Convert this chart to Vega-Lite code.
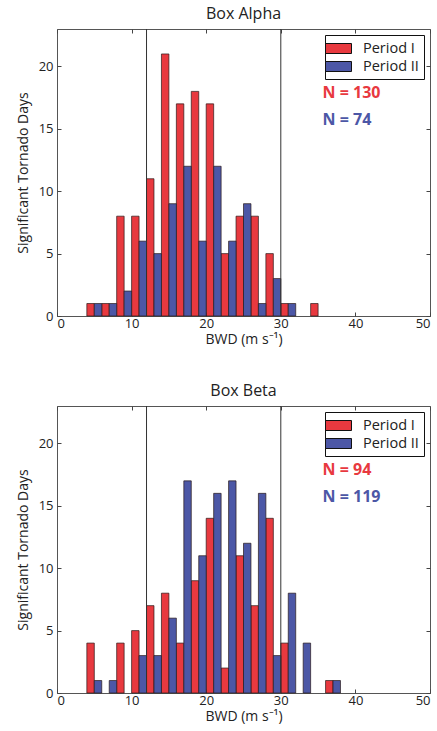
{
  "$schema": "https://vega.github.io/schema/vega-lite/v6.json",
  "padding": {"left": 15, "top": 5, "right": 4, "bottom": 2},
  "background": "white",
  "config": {
    "font": "Open Sans",
    "view": {"stroke": "#555555", "strokeWidth": 1},
    "axis": {
      "domain": false, "grid": false, "offset": -4, "tickSize": 4, "tickColor": "#444444", "tickWidth": 1, "zindex": 1,
      "labelFontSize": 13, "labelColor": "#222222", "labelPadding": 4,
      "titleFontSize": 14, "titleFontWeight": "normal", "titleColor": "#222222"
    },
    "axisX": {"labelPadding": 1, "titlePadding": 2},
    "axisY": {"titlePadding": 8},
    "title": {"fontSize": 16, "fontWeight": "normal", "color": "#222222", "offset": 7},
    "legend": {
      "orient": "top-right", "offset": 6, "title": null,
      "strokeColor": "#111111", "fillColor": "white", "padding": 5,
      "labelFontSize": 14.5, "labelColor": "#222222", "labelOffset": 16,
      "symbolType": "M-1.625,-0.625H1.625V0.625H-1.625Z", "symbolSize": 256,
      "symbolStrokeColor": "#111111", "symbolStrokeWidth": 1, "rowPadding": 2
    }
  },
  "datasets": {
    "bars": [
      {"box": "Box Alpha", "period": "Period I", "bwd_start": 4, "bwd_end": 5, "days": 1},
      {"box": "Box Alpha", "period": "Period I", "bwd_start": 6, "bwd_end": 7, "days": 1},
      {"box": "Box Alpha", "period": "Period I", "bwd_start": 8, "bwd_end": 9, "days": 8},
      {"box": "Box Alpha", "period": "Period I", "bwd_start": 10, "bwd_end": 11, "days": 8},
      {"box": "Box Alpha", "period": "Period I", "bwd_start": 12, "bwd_end": 13, "days": 11},
      {"box": "Box Alpha", "period": "Period I", "bwd_start": 14, "bwd_end": 15, "days": 21},
      {"box": "Box Alpha", "period": "Period I", "bwd_start": 16, "bwd_end": 17, "days": 17},
      {"box": "Box Alpha", "period": "Period I", "bwd_start": 18, "bwd_end": 19, "days": 18},
      {"box": "Box Alpha", "period": "Period I", "bwd_start": 20, "bwd_end": 21, "days": 17},
      {"box": "Box Alpha", "period": "Period I", "bwd_start": 22, "bwd_end": 23, "days": 5},
      {"box": "Box Alpha", "period": "Period I", "bwd_start": 24, "bwd_end": 25, "days": 8},
      {"box": "Box Alpha", "period": "Period I", "bwd_start": 26, "bwd_end": 27, "days": 8},
      {"box": "Box Alpha", "period": "Period I", "bwd_start": 28, "bwd_end": 29, "days": 5},
      {"box": "Box Alpha", "period": "Period I", "bwd_start": 30, "bwd_end": 31, "days": 1},
      {"box": "Box Alpha", "period": "Period I", "bwd_start": 34, "bwd_end": 35, "days": 1},
      {"box": "Box Alpha", "period": "Period II", "bwd_start": 5, "bwd_end": 6, "days": 1},
      {"box": "Box Alpha", "period": "Period II", "bwd_start": 7, "bwd_end": 8, "days": 1},
      {"box": "Box Alpha", "period": "Period II", "bwd_start": 9, "bwd_end": 10, "days": 2},
      {"box": "Box Alpha", "period": "Period II", "bwd_start": 11, "bwd_end": 12, "days": 6},
      {"box": "Box Alpha", "period": "Period II", "bwd_start": 13, "bwd_end": 14, "days": 5},
      {"box": "Box Alpha", "period": "Period II", "bwd_start": 15, "bwd_end": 16, "days": 9},
      {"box": "Box Alpha", "period": "Period II", "bwd_start": 17, "bwd_end": 18, "days": 12},
      {"box": "Box Alpha", "period": "Period II", "bwd_start": 19, "bwd_end": 20, "days": 6},
      {"box": "Box Alpha", "period": "Period II", "bwd_start": 21, "bwd_end": 22, "days": 12},
      {"box": "Box Alpha", "period": "Period II", "bwd_start": 23, "bwd_end": 24, "days": 6},
      {"box": "Box Alpha", "period": "Period II", "bwd_start": 25, "bwd_end": 26, "days": 9},
      {"box": "Box Alpha", "period": "Period II", "bwd_start": 27, "bwd_end": 28, "days": 1},
      {"box": "Box Alpha", "period": "Period II", "bwd_start": 29, "bwd_end": 30, "days": 3},
      {"box": "Box Alpha", "period": "Period II", "bwd_start": 31, "bwd_end": 32, "days": 1},
      {"box": "Box Beta", "period": "Period I", "bwd_start": 4, "bwd_end": 5, "days": 4},
      {"box": "Box Beta", "period": "Period I", "bwd_start": 8, "bwd_end": 9, "days": 4},
      {"box": "Box Beta", "period": "Period I", "bwd_start": 10, "bwd_end": 11, "days": 5},
      {"box": "Box Beta", "period": "Period I", "bwd_start": 12, "bwd_end": 13, "days": 7},
      {"box": "Box Beta", "period": "Period I", "bwd_start": 14, "bwd_end": 15, "days": 8},
      {"box": "Box Beta", "period": "Period I", "bwd_start": 16, "bwd_end": 17, "days": 4},
      {"box": "Box Beta", "period": "Period I", "bwd_start": 18, "bwd_end": 19, "days": 9},
      {"box": "Box Beta", "period": "Period I", "bwd_start": 20, "bwd_end": 21, "days": 14},
      {"box": "Box Beta", "period": "Period I", "bwd_start": 22, "bwd_end": 23, "days": 2},
      {"box": "Box Beta", "period": "Period I", "bwd_start": 24, "bwd_end": 25, "days": 11},
      {"box": "Box Beta", "period": "Period I", "bwd_start": 26, "bwd_end": 27, "days": 7},
      {"box": "Box Beta", "period": "Period I", "bwd_start": 28, "bwd_end": 29, "days": 14},
      {"box": "Box Beta", "period": "Period I", "bwd_start": 30, "bwd_end": 31, "days": 4},
      {"box": "Box Beta", "period": "Period I", "bwd_start": 36, "bwd_end": 37, "days": 1},
      {"box": "Box Beta", "period": "Period II", "bwd_start": 5, "bwd_end": 6, "days": 1},
      {"box": "Box Beta", "period": "Period II", "bwd_start": 7, "bwd_end": 8, "days": 1},
      {"box": "Box Beta", "period": "Period II", "bwd_start": 11, "bwd_end": 12, "days": 3},
      {"box": "Box Beta", "period": "Period II", "bwd_start": 13, "bwd_end": 14, "days": 3},
      {"box": "Box Beta", "period": "Period II", "bwd_start": 15, "bwd_end": 16, "days": 6},
      {"box": "Box Beta", "period": "Period II", "bwd_start": 17, "bwd_end": 18, "days": 17},
      {"box": "Box Beta", "period": "Period II", "bwd_start": 19, "bwd_end": 20, "days": 11},
      {"box": "Box Beta", "period": "Period II", "bwd_start": 21, "bwd_end": 22, "days": 16},
      {"box": "Box Beta", "period": "Period II", "bwd_start": 23, "bwd_end": 24, "days": 17},
      {"box": "Box Beta", "period": "Period II", "bwd_start": 25, "bwd_end": 26, "days": 12},
      {"box": "Box Beta", "period": "Period II", "bwd_start": 27, "bwd_end": 28, "days": 16},
      {"box": "Box Beta", "period": "Period II", "bwd_start": 29, "bwd_end": 30, "days": 3},
      {"box": "Box Beta", "period": "Period II", "bwd_start": 31, "bwd_end": 32, "days": 8},
      {"box": "Box Beta", "period": "Period II", "bwd_start": 33, "bwd_end": 34, "days": 4},
      {"box": "Box Beta", "period": "Period II", "bwd_start": 37, "bwd_end": 38, "days": 1}
    ],
    "cuts": [{"bwd": 12}, {"bwd": 30}],
    "notes": [
      {"box": "Box Alpha", "period": "Period I", "label": "N = 130"},
      {"box": "Box Alpha", "period": "Period II", "label": "N = 74"},
      {"box": "Box Beta", "period": "Period I", "label": "N = 94"},
      {"box": "Box Beta", "period": "Period II", "label": "N = 119"}
    ]
  },
  "spacing": 35,
  "resolve": {"scale": {"color": "independent"}, "legend": {"color": "independent"}},
  "vconcat": [
    {
      "title": "Box Alpha",
      "width": 373, "height": 287,
      "layer": [
        {
          "data": {"name": "bars"},
          "transform": [{"filter": "datum.box === 'Box Alpha'"}],
          "mark": {"type": "bar", "stroke": "#2a1a1a", "strokeWidth": 0.7},
          "encoding": {
            "x": {"field": "bwd_start", "type": "quantitative", "scale": {"domain": [0, 50], "nice": false}, "axis": {"title": "BWD (m s⁻¹)", "values": [0, 10, 20, 30, 40, 50], "orient": "bottom"}},
            "x2": {"field": "bwd_end"},
            "y": {"field": "days", "type": "quantitative", "scale": {"domain": [0, 23], "nice": false}, "axis": {"title": "Significant Tornado Days", "values": [0, 5, 10, 15, 20], "orient": "left"}},
            "y2": {"datum": 0},
            "color": {"field": "period", "type": "nominal", "scale": {"domain": ["Period I", "Period II"], "range": ["#E8393F", "#4C57A6"]}}
          }
        },
        {
          "data": {"name": "cuts"},
          "mark": {"type": "rule", "color": "#333333", "strokeWidth": 1},
          "encoding": {
            "x": {"field": "bwd", "type": "quantitative", "axis": {"orient": "top", "labels": false, "title": null, "values": [0, 10, 20, 30, 40, 50]}}
          }
        },
        {
          "data": {"name": "notes"},
          "transform": [{"filter": "datum.box === 'Box Alpha' && datum.period === 'Period I'"}],
          "mark": {"type": "text", "align": "left", "baseline": "middle", "fontSize": 16, "fontWeight": "bold", "color": "#E8393F"},
          "encoding": {
            "x": {"datum": 35.6, "type": "quantitative", "axis": null},
            "y": {"datum": 17.9, "type": "quantitative", "axis": {"orient": "right", "labels": false, "title": null, "values": [0, 5, 10, 15, 20]}},
            "text": {"field": "label"}
          }
        },
        {
          "data": {"name": "notes"},
          "transform": [{"filter": "datum.box === 'Box Alpha' && datum.period === 'Period II'"}],
          "mark": {"type": "text", "align": "left", "baseline": "middle", "fontSize": 16, "fontWeight": "bold", "color": "#4C57A6"},
          "encoding": {
            "x": {"datum": 35.6, "type": "quantitative", "axis": null},
            "y": {"datum": 15.7, "type": "quantitative", "axis": null},
            "text": {"field": "label"}
          }
        }
      ]
    },
    {
      "title": "Box Beta",
      "width": 373, "height": 287,
      "layer": [
        {
          "data": {"name": "bars"},
          "transform": [{"filter": "datum.box === 'Box Beta'"}],
          "mark": {"type": "bar", "stroke": "#2a1a1a", "strokeWidth": 0.7},
          "encoding": {
            "x": {"field": "bwd_start", "type": "quantitative", "scale": {"domain": [0, 50], "nice": false}, "axis": {"title": "BWD (m s⁻¹)", "values": [0, 10, 20, 30, 40, 50], "orient": "bottom"}},
            "x2": {"field": "bwd_end"},
            "y": {"field": "days", "type": "quantitative", "scale": {"domain": [0, 23], "nice": false}, "axis": {"title": "Significant Tornado Days", "values": [0, 5, 10, 15, 20], "orient": "left"}},
            "y2": {"datum": 0},
            "color": {"field": "period", "type": "nominal", "scale": {"domain": ["Period I", "Period II"], "range": ["#E8393F", "#4C57A6"]}}
          }
        },
        {
          "data": {"name": "cuts"},
          "mark": {"type": "rule", "color": "#333333", "strokeWidth": 1},
          "encoding": {
            "x": {"field": "bwd", "type": "quantitative", "axis": {"orient": "top", "labels": false, "title": null, "values": [0, 10, 20, 30, 40, 50]}}
          }
        },
        {
          "data": {"name": "notes"},
          "transform": [{"filter": "datum.box === 'Box Beta' && datum.period === 'Period I'"}],
          "mark": {"type": "text", "align": "left", "baseline": "middle", "fontSize": 16, "fontWeight": "bold", "color": "#E8393F"},
          "encoding": {
            "x": {"datum": 35.6, "type": "quantitative", "axis": null},
            "y": {"datum": 17.9, "type": "quantitative", "axis": {"orient": "right", "labels": false, "title": null, "values": [0, 5, 10, 15, 20]}},
            "text": {"field": "label"}
          }
        },
        {
          "data": {"name": "notes"},
          "transform": [{"filter": "datum.box === 'Box Beta' && datum.period === 'Period II'"}],
          "mark": {"type": "text", "align": "left", "baseline": "middle", "fontSize": 16, "fontWeight": "bold", "color": "#4C57A6"},
          "encoding": {
            "x": {"datum": 35.6, "type": "quantitative", "axis": null},
            "y": {"datum": 15.7, "type": "quantitative", "axis": null},
            "text": {"field": "label"}
          }
        }
      ]
    }
  ]
}
